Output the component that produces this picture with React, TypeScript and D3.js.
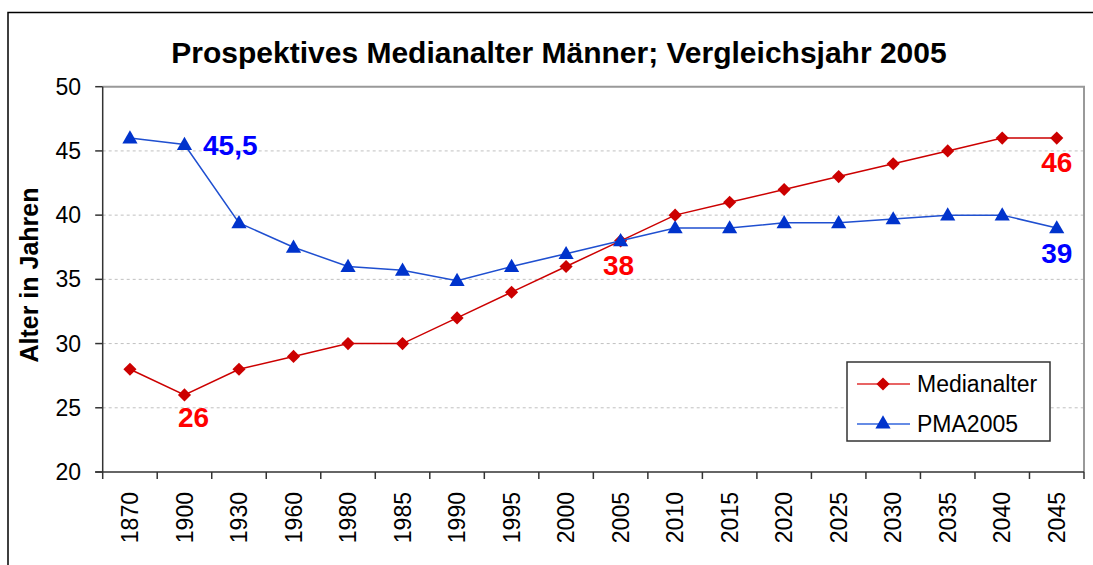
import React, { useRef, useEffect } from 'react';
import * as d3 from 'd3';

const years = ['1870', '1900', '1930', '1960', '1980', '1985', '1990', '1995', '2000', '2005', '2010', '2015', '2020', '2025', '2030', '2035', '2040', '2045'];
const medianalter = [28, 26, 28, 29, 30, 30, 32, 34, 36, 38, 40, 41, 42, 43, 44, 45, 46, 46];
const pma2005 = [46, 45.5, 39.4, 37.5, 36, 35.7, 34.9, 36, 37, 38, 39, 39, 39.4, 39.4, 39.7, 40, 40, 39];
const yTicks = [20, 25, 30, 35, 40, 45, 50];

function App() {
    const ref = useRef<SVGSVGElement>(null);
    useEffect(() => {
        const svg = d3.select(ref.current);
        svg.selectAll('*').remove();
        const font = 'Liberation Sans, Arial, sans-serif';
        const left = 102.7, right = 1084, top = 86.7, bottom = 472;

        // outer frame
        svg.append('rect')
            .attr('x', 8).attr('y', 12.5)
            .attr('width', 1200).attr('height', 700)
            .attr('fill', 'white').attr('stroke', 'black').attr('stroke-width', 1.5);

        svg.append('text')
            .attr('x', 559).attr('y', 63)
            .attr('text-anchor', 'middle')
            .attr('font-family', font).attr('font-weight', 'bold').attr('font-size', 30)
            .text('Prospektives Medianalter Männer; Vergleichsjahr 2005');

        const xScale = d3.scaleBand().domain(years).range([left, right]).padding(0);
        const yScale = d3.scaleLinear().domain([20, 50]).range([bottom, top]);
        const cx = (d: string) => (xScale(d) as number) + xScale.bandwidth() / 2;

        const g = svg.append('g');

        // gridlines
        g.selectAll('.grid')
            .data(yTicks.filter(t => t > 20 && t < 50))
            .enter().append('line')
            .attr('x1', left).attr('x2', right)
            .attr('y1', d => yScale(d)).attr('y2', d => yScale(d))
            .attr('stroke', '#c0c0c0').attr('stroke-width', 1).attr('stroke-dasharray', '3,3');

        // plot area border top/right
        g.append('path')
            .attr('d', `M${left},${top}H${right}V${bottom}`)
            .attr('fill', 'none').attr('stroke', '#999').attr('stroke-width', 2);

        // y axis
        g.append('line')
            .attr('x1', left).attr('x2', left).attr('y1', top).attr('y2', bottom)
            .attr('stroke', '#333').attr('stroke-width', 1.5);
        g.selectAll('.ytick')
            .data(yTicks)
            .enter().append('line')
            .attr('x1', left - 7.5).attr('x2', left)
            .attr('y1', d => yScale(d)).attr('y2', d => yScale(d))
            .attr('stroke', '#333').attr('stroke-width', 1.5);
        g.selectAll('.ylabel')
            .data(yTicks)
            .enter().append('text')
            .attr('x', 81).attr('y', d => yScale(d))
            .attr('dy', '0.35em')
            .attr('text-anchor', 'end')
            .attr('font-family', font).attr('font-size', 23)
            .text(d => d);

        // x axis
        g.append('line')
            .attr('x1', left - 7.5).attr('x2', right).attr('y1', bottom).attr('y2', bottom)
            .attr('stroke', '#333').attr('stroke-width', 1.5);
        const bounds = years.map(d => xScale(d) as number).concat([right]);
        g.selectAll('.xtick')
            .data(bounds)
            .enter().append('line')
            .attr('x1', d => d).attr('x2', d => d)
            .attr('y1', bottom).attr('y2', bottom + 7)
            .attr('stroke', '#333').attr('stroke-width', 1.5);
        g.selectAll('.xlabel')
            .data(years)
            .enter().append('text')
            .attr('transform', d => `translate(${cx(d)},492) rotate(-90)`)
            .attr('dy', '0.35em')
            .attr('text-anchor', 'end')
            .attr('font-family', font).attr('font-size', 23)
            .text(d => d);

        svg.append('text')
            .attr('transform', 'translate(38,275) rotate(-90)')
            .attr('text-anchor', 'middle')
            .attr('font-family', font).attr('font-weight', 'bold').attr('font-size', 25)
            .text('Alter in Jahren');

        const line = d3.line<number>()
            .x((d, i) => cx(years[i]))
            .y(d => yScale(d));

        const diamond = d3.symbol().type(d3.symbolDiamond2).size(110);
        const triangle = d3.symbol().type(d3.symbolTriangle).size(100);

        // Medianalter
        g.append('path').datum(medianalter)
            .attr('d', line).attr('fill', 'none')
            .attr('stroke', '#CC0000').attr('stroke-width', 1.5);
        g.selectAll('.med')
            .data(medianalter)
            .enter().append('path')
            .attr('transform', (d, i) => `translate(${cx(years[i])},${yScale(d)})`)
            .attr('d', diamond)
            .attr('fill', '#CC0000');

        // PMA2005
        g.append('path').datum(pma2005)
            .attr('d', line).attr('fill', 'none')
            .attr('stroke', '#1f4fd0').attr('stroke-width', 1.5);
        g.selectAll('.pma')
            .data(pma2005)
            .enter().append('path')
            .attr('transform', (d, i) => `translate(${cx(years[i])},${yScale(d) + 1})`)
            .attr('d', triangle)
            .attr('fill', '#0033CC');

        // value labels
        const labels = [
            { text: '45,5', x: 203, y: 155, anchor: 'start', color: '#0000FF' },
            { text: '26', x: cx('1900') + 9, y: 427, anchor: 'middle', color: '#FF0000' },
            { text: '38', x: cx('2005') - 2, y: 275, anchor: 'middle', color: '#FF0000' },
            { text: '46', x: cx('2045'), y: 172, anchor: 'middle', color: '#FF0000' },
            { text: '39', x: cx('2045'), y: 263, anchor: 'middle', color: '#0000FF' },
        ];
        g.selectAll('.vlabel')
            .data(labels)
            .enter().append('text')
            .attr('x', d => d.x).attr('y', d => d.y)
            .attr('text-anchor', d => d.anchor)
            .attr('font-family', font).attr('font-weight', 'bold').attr('font-size', 28)
            .attr('fill', d => d.color)
            .text(d => d.text);

        // legend
        const lg = svg.append('g');
        lg.append('rect')
            .attr('x', 847).attr('y', 362).attr('width', 203).attr('height', 79)
            .attr('fill', 'white').attr('stroke', '#333').attr('stroke-width', 1.5);
        const items = [
            { name: 'Medianalter', line: '#e03030', fill: '#CC0000', sym: diamond, y: 384 },
            { name: 'PMA2005', line: '#3366dd', fill: '#0033CC', sym: triangle, y: 424 },
        ];
        items.forEach(it => {
            lg.append('line')
                .attr('x1', 857).attr('x2', 910).attr('y1', it.y).attr('y2', it.y)
                .attr('stroke', it.line).attr('stroke-width', 1.5);
            lg.append('path')
                .attr('transform', `translate(883,${it.y})`)
                .attr('d', it.sym)
                .attr('fill', it.fill);
            lg.append('text')
                .attr('x', 917).attr('y', it.y)
                .attr('dy', '0.35em')
                .attr('font-family', font).attr('font-size', 23)
                .text(it.name);
        });
    }, []);
    return (
        <svg ref={ref} width="1093" height="565" style={{ position: 'absolute', left: 0, top: 0 }}></svg>
    );
}

export default App;
